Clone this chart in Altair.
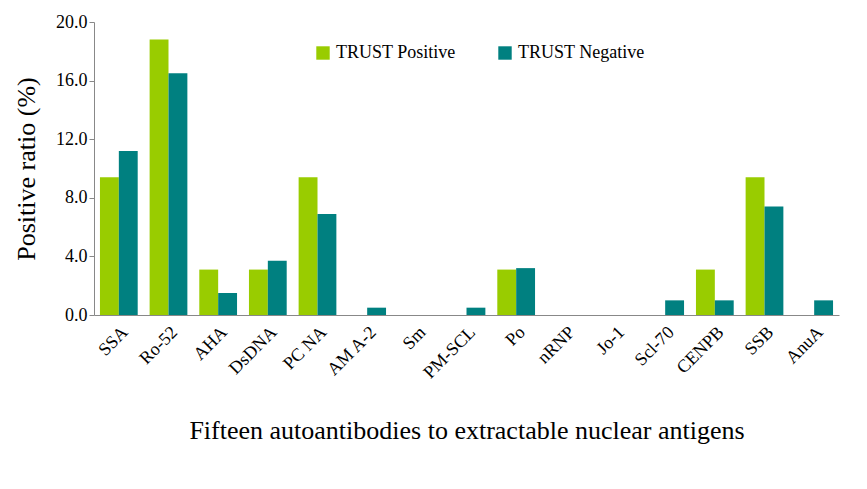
import altair as alt
import pandas as pd

antigens = ['SSA', 'Ro-52', 'AHA', 'DsDNA', 'PC NA', 'AM A-2', 'Sm', 'PM-SCL',
            'Po', 'nRNP', 'Jo-1', 'Scl-70', 'CENPB', 'SSB', 'AnuA']
positive = [9.4, 18.8, 3.1, 3.1, 9.4, 0.0, 0.0, 0.0, 3.1, 0.0, 0.0, 0.0, 3.1, 9.4, 0.0]
negative = [11.2, 16.5, 1.5, 3.7, 6.9, 0.5, 0.0, 0.5, 3.2, 0.0, 0.0, 1.0, 1.0, 7.4, 1.0]
groups = ['TRUST Positive', 'TRUST Negative']

rows = []
for i, a in enumerate(antigens):
    rows.append({'antigen': a, 'group': groups[0], 'value': positive[i]})
    rows.append({'antigen': a, 'group': groups[1], 'value': negative[i]})
df = pd.DataFrame(rows)

font = 'Liberation Serif'

chart = alt.Chart(df).mark_bar().encode(
    x=alt.X('antigen:N', sort=antigens, scale=alt.Scale(paddingInner=0.24, paddingOuter=0.12),
            axis=alt.Axis(title='Fifteen autoantibodies to extractable nuclear antigens',
                          labelAngle=-45, labelAlign='right', labelBaseline='top',
                          labelFontSize=18, titleFontSize=26, titleFontWeight='normal',
                          ticks=False, domainColor='#888', labelColor='black',
                          titlePadding=36, labelPadding=8)),
    xOffset=alt.XOffset('group:N', sort=groups),
    y=alt.Y('value:Q', scale=alt.Scale(domain=[0, 20]),
            axis=alt.Axis(title='Positive ratio (%)', values=[0, 4, 8, 12, 16, 20], format='.1f',
                          grid=False, labelFontSize=18, titleFontSize=26, titleFontWeight='normal',
                          domainColor='#888', tickColor='#888', labelColor='black',
                          titlePadding=16)),
    color=alt.Color('group:N', sort=groups,
                    scale=alt.Scale(domain=groups, range=['#99cc00', '#008080']),
                    legend=alt.Legend(title=None, orient='none', direction='horizontal',
                                      legendX=220, legendY=22, labelFontSize=18,
                                      symbolType='square', symbolSize=180, columnPadding=40)),
).properties(width=745, height=293).configure(font=font).configure_view(strokeWidth=0)

chart.save("out.html", embed_options={"renderer": "svg", "actions": False})
